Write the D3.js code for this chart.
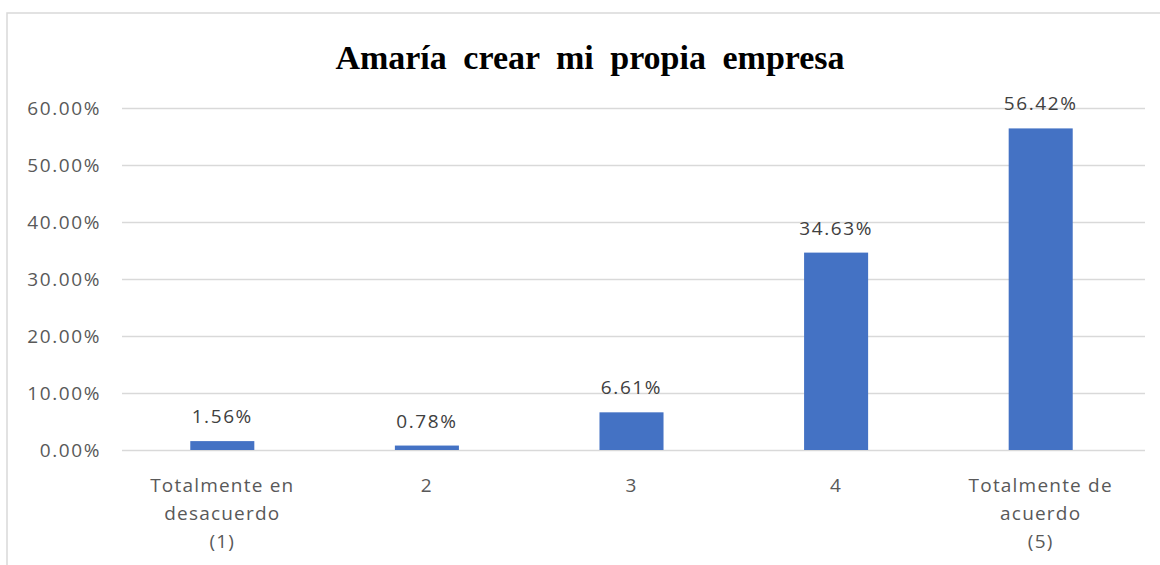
<!DOCTYPE html>
<html>
<head>
<meta charset="utf-8">
<script src="https://cdn.jsdelivr.net/npm/d3@7"></script>
<style>
  html, body { margin: 0; padding: 0; background: #fff; }
  svg { display: block; }
</style>
</head>
<body>
<svg id="chart" width="1160" height="565"></svg>
<script>
const title = "Amaría crear mi propia empresa";
const categories = [
  ["Totalmente en", "desacuerdo", "(1)"],
  ["2"],
  ["3"],
  ["4"],
  ["Totalmente de", "acuerdo", "(5)"]
];
const values = [1.56, 0.78, 6.61, 34.63, 56.42];
const yTicks = [0, 10, 20, 30, 40, 50, 60];

const svg = d3.select("#chart");
const W = 1160, H = 565;
const m = { left: 120, right: 17, top: 108, bottom: 115 };

// frame
svg.append("rect")
  .attr("x", 7).attr("y", 13)
  .attr("width", W + 10).attr("height", H + 10)
  .attr("fill", "#fff").attr("stroke", "#d9d9d9").attr("stroke-width", 1.5);

const x = d3.scaleBand()
  .domain(d3.range(values.length))
  .range([m.left, W - m.right])
  .paddingInner(0.687)
  .paddingOuter(0.687 / 2);

const y = d3.scaleLinear().domain([0, 60]).range([H - m.bottom, m.top]);

const font = "'Open Sans', 'Liberation Sans', sans-serif";
const fs = "19px", ls = "1.6px";

// gridlines + y axis
const yAxis = d3.axisLeft(y)
  .tickValues(yTicks)
  .tickSize(-(W - m.right - m.left + 2))
  .tickPadding(19)
  .tickFormat(d => d.toFixed(2) + "%");

const gy = svg.append("g")
  .attr("transform", `translate(${m.left},0)`)
  .call(yAxis);
gy.select(".domain").remove();
gy.selectAll(".tick line")
  .attr("x1", 2)
  .attr("stroke", "#d9d9d9").attr("stroke-width", 1.5);
gy.selectAll(".tick text")
  .attr("fill", "#595959")
  .style("font-family", font)
  .style("font-size", fs)
  .style("letter-spacing", ls)
  .attr("dy", "0.35em");

// bars
svg.append("g").selectAll("rect")
  .data(values)
  .join("rect")
  .attr("x", (d, i) => x(i))
  .attr("width", x.bandwidth())
  .attr("y", d => y(d))
  .attr("height", d => y(0) - y(d))
  .attr("fill", "#4472c4");

// data labels
svg.append("g").selectAll("text")
  .data(values)
  .join("text")
  .attr("x", (d, i) => x(i) + x.bandwidth() / 2)
  .attr("y", d => y(d) - 18)
  .attr("text-anchor", "middle")
  .attr("fill", "#404040")
  .style("font-family", font)
  .style("font-size", fs)
  .style("letter-spacing", ls)
  .text(d => d.toFixed(2) + "%");

// category labels
const gx = svg.append("g");
categories.forEach((lines, i) => {
  const t = gx.append("text")
    .attr("x", x(i) + x.bandwidth() / 2)
    .attr("y", y(0) + 42)
    .attr("text-anchor", "middle")
    .attr("fill", "#595959")
    .style("font-family", font)
    .style("font-size", fs)
    .style("letter-spacing", "1.2px");
  lines.forEach((l, j) => {
    t.append("tspan")
      .attr("x", x(i) + x.bandwidth() / 2)
      .attr("dy", j === 0 ? 0 : 28)
      .text(l);
  });
});

// title
svg.append("text")
  .attr("x", 590).attr("y", 69)
  .attr("text-anchor", "middle")
  .attr("fill", "#000")
  .style("font-family", "'Liberation Serif', 'Times New Roman', serif")
  .style("font-weight", "bold")
  .style("font-size", "34px")
  .style("word-spacing", "8px")
  .text(title);
</script>
</body>
</html>
